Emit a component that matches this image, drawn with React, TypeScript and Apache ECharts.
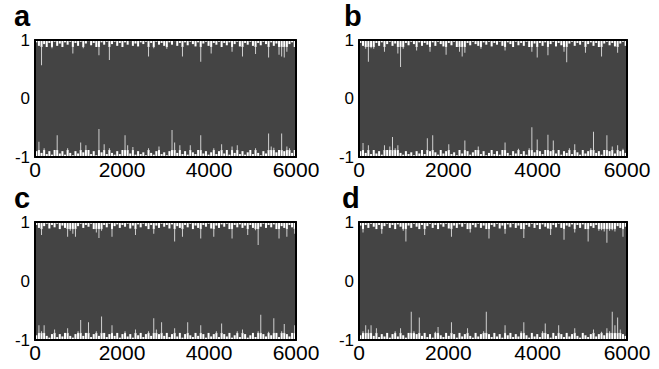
import React, { useEffect, useRef } from "react";
import * as echarts from "echarts";

// Bin width (x units) of the envelope samples (100 bins over 0..6000)
const BIN = 60;
const xTicks = [0, 2000, 4000, 6000];
const yTicks = [-1, 0, 1];
const panelLabels = ["a", "b", "c", "d"];

// Upper / lower envelope of each signal, one value per bin
const topA = [
  0.96, 0.9, 0.57, 0.93, 0.88, 0.95, 0.86, 0.97, 0.9, 0.94,
  0.88, 0.96, 0.92, 0.97, 0.77, 0.95, 0.9, 0.97, 0.86, 0.94,
  0.98, 0.91, 0.95, 0.88, 0.74, 0.96, 0.92, 0.97, 0.66, 0.93,
  0.97, 0.9, 0.95, 0.88, 0.96, 0.92, 0.98, 0.9, 0.94, 0.89,
  0.96, 0.93, 0.97, 0.72, 0.95, 0.86, 0.97, 0.92, 0.95, 0.9,
  0.85, 0.96, 0.92, 0.98, 0.9, 0.95, 0.72, 0.96, 0.91, 0.97,
  0.93, 0.89, 0.96, 0.63, 0.94, 0.97, 0.9, 0.77, 0.95, 0.92,
  0.97, 0.88, 0.95, 0.91, 0.96, 0.8, 0.93, 0.97, 0.89, 0.72,
  0.95, 0.92, 0.97, 0.9, 0.76, 0.95, 0.91, 0.97, 0.93, 0.7,
  0.96, 0.9, 0.94, 0.75, 0.72, 0.7, 0.8, 0.93, 0.96, 0.88,
];
const botA = [
  -0.9, -0.74, -0.93, -0.85, -0.95, -0.9, -0.96, -0.88, -0.63, -0.94,
  -0.9, -0.96, -0.85, -0.93, -0.97, -0.9, -0.94, -0.75, -0.92, -0.8,
  -0.88, -0.95, -0.9, -0.97, -0.52, -0.92, -0.78, -0.95, -0.85, -0.93,
  -0.96, -0.9, -0.95, -0.88, -0.63, -0.8, -0.94, -0.83, -0.96, -0.9,
  -0.95, -0.92, -0.97, -0.85, -0.93, -0.96, -0.9, -0.82, -0.95, -0.92,
  -0.97, -0.9, -0.54, -0.75, -0.93, -0.8, -0.95, -0.9, -0.96, -0.8,
  -0.92, -0.95, -0.88, -0.63, -0.94, -0.9, -0.96, -0.92, -0.85, -0.95,
  -0.9, -0.78, -0.94, -0.88, -0.96, -0.82, -0.93, -0.8, -0.95, -0.9,
  -0.96, -0.92, -0.88, -0.95, -0.85, -0.93, -0.97, -0.9, -0.94, -0.6,
  -0.82, -0.84, -0.92, -0.88, -0.6, -0.9, -0.82, -0.85, -0.93, -0.88,
];
const topB = [
  0.95, 0.9, 0.85, 0.63, 0.86, 0.85, 0.95, 0.9, 0.96, 0.8,
  0.93, 0.97, 0.9, 0.94, 0.77, 0.54, 0.85, 0.95, 0.91, 0.97,
  0.93, 0.82, 0.96, 0.9, 0.95, 0.92, 0.8, 0.96, 0.9, 0.97,
  0.93, 0.89, 0.75, 0.95, 0.91, 0.97, 0.88, 0.8, 0.72, 0.78,
  0.95, 0.91, 0.97, 0.93, 0.9, 0.85, 0.96, 0.92, 0.97, 0.89,
  0.95, 0.92, 0.97, 0.9, 0.82, 0.96, 0.93, 0.88, 0.97, 0.91,
  0.95, 0.9, 0.97, 0.88, 0.8, 0.94, 0.7, 0.95, 0.9, 0.96,
  0.74, 0.93, 0.97, 0.89, 0.95, 0.91, 0.8, 0.62, 0.94, 0.97,
  0.9, 0.95, 0.92, 0.97, 0.78, 0.93, 0.96, 0.9, 0.95, 0.88,
  0.72, 0.94, 0.97, 0.91, 0.95, 0.89, 0.78, 0.94, 0.97, 0.9,
];
const botB = [
  -0.9, -0.76, -0.93, -0.8, -0.95, -0.88, -0.94, -0.9, -0.96, -0.8,
  -0.88, -0.82, -0.66, -0.85, -0.8, -0.93, -0.96, -0.9, -0.95, -0.92,
  -0.97, -0.9, -0.94, -0.88, -0.95, -0.68, -0.9, -0.63, -0.92, -0.96,
  -0.88, -0.94, -0.9, -0.78, -0.95, -0.92, -0.97, -0.88, -0.94, -0.72,
  -0.9, -0.96, -0.92, -0.88, -0.82, -0.95, -0.9, -0.97, -0.93, -0.88,
  -0.95, -0.9, -0.96, -0.88, -0.75, -0.93, -0.97, -0.9, -0.94, -0.86,
  -0.95, -0.9, -0.96, -0.85, -0.49, -0.92, -0.7, -0.9, -0.95, -0.88,
  -0.62, -0.9, -0.72, -0.94, -0.88, -0.96, -0.9, -0.93, -0.85, -0.95,
  -0.78, -0.92, -0.96, -0.88, -0.94, -0.9, -0.85, -0.57, -0.93, -0.9,
  -0.96, -0.88, -0.63, -0.9, -0.82, -0.94, -0.8, -0.9, -0.86, -0.93,
];
const topC = [
  0.95, 0.9, 0.78, 0.93, 0.97, 0.89, 0.95, 0.91, 0.97, 0.88,
  0.94, 0.9, 0.75, 0.85, 0.8, 0.75, 0.93, 0.97, 0.9, 0.95,
  0.92, 0.97, 0.88, 0.82, 0.73, 0.85, 0.95, 0.91, 0.97, 0.75,
  0.93, 0.96, 0.9, 0.95, 0.92, 0.97, 0.89, 0.94, 0.78, 0.96,
  0.91, 0.97, 0.93, 0.88, 0.95, 0.8, 0.94, 0.9, 0.97, 0.92,
  0.95, 0.89, 0.96, 0.67, 0.93, 0.9, 0.75, 0.95, 0.91, 0.97,
  0.88, 0.94, 0.9, 0.72, 0.95, 0.92, 0.97, 0.89, 0.75, 0.94,
  0.9, 0.96, 0.92, 0.97, 0.88, 0.72, 0.95, 0.91, 0.96, 0.9,
  0.94, 0.78, 0.95, 0.9, 0.86, 0.61, 0.92, 0.97, 0.9, 0.95,
  0.91, 0.96, 0.88, 0.72, 0.93, 0.9, 0.75, 0.95, 0.91, 0.8,
];
const botC = [
  -0.92, -0.75, -0.85, -0.75, -0.93, -0.96, -0.9, -0.82, -0.95, -0.9,
  -0.94, -0.88, -0.8, -0.93, -0.96, -0.9, -0.85, -0.66, -0.93, -0.88,
  -0.7, -0.95, -0.9, -0.85, -0.93, -0.6, -0.88, -0.95, -0.9, -0.75,
  -0.93, -0.88, -0.96, -0.9, -0.85, -0.94, -0.9, -0.96, -0.82, -0.92,
  -0.88, -0.95, -0.9, -0.85, -0.93, -0.63, -0.82, -0.9, -0.7, -0.93,
  -0.88, -0.95, -0.9, -0.8, -0.94, -0.88, -0.96, -0.9, -0.7, -0.92,
  -0.95, -0.88, -0.93, -0.75, -0.9, -0.96, -0.88, -0.94, -0.9, -0.85,
  -0.95, -0.72, -0.9, -0.94, -0.88, -0.96, -0.92, -0.85, -0.95, -0.82,
  -0.9, -0.96, -0.92, -0.88, -0.95, -0.85, -0.57, -0.9, -0.94, -0.86,
  -0.92, -0.63, -0.88, -0.95, -0.85, -0.73, -0.9, -0.94, -0.88, -0.75,
];
const topD = [
  0.94, 0.82, 0.95, 0.9, 0.97, 0.92, 0.88, 0.95, 0.8, 0.93,
  0.97, 0.9, 0.95, 0.88, 0.96, 0.92, 0.85, 0.67, 0.94, 0.9,
  0.97, 0.92, 0.88, 0.95, 0.78, 0.93, 0.97, 0.9, 0.95, 0.88,
  0.96, 0.92, 0.97, 0.89, 0.75, 0.94, 0.9, 0.96, 0.92, 0.97,
  0.88, 0.82, 0.95, 0.91, 0.97, 0.9, 0.94, 0.88, 0.72, 0.95,
  0.92, 0.97, 0.89, 0.94, 0.8, 0.96, 0.91, 0.97, 0.9, 0.94,
  0.88, 0.73, 0.95, 0.92, 0.97, 0.9, 0.95, 0.88, 0.96, 0.92,
  0.89, 0.78, 0.95, 0.91, 0.97, 0.9, 0.7, 0.94, 0.92, 0.96,
  0.82, 0.95, 0.9, 0.96, 0.88, 0.67, 0.93, 0.9, 0.95, 0.85,
  0.86, 0.84, 0.65, 0.85, 0.86, 0.84, 0.93, 0.9, 0.75, 0.92,
];
const botD = [
  -0.92, -0.85, -0.75, -0.82, -0.75, -0.93, -0.8, -0.95, -0.9, -0.94,
  -0.88, -0.96, -0.9, -0.85, -0.94, -0.8, -0.92, -0.96, -0.88, -0.52,
  -0.85, -0.9, -0.62, -0.93, -0.88, -0.95, -0.9, -0.96, -0.86, -0.78,
  -0.92, -0.95, -0.88, -0.93, -0.7, -0.9, -0.96, -0.88, -0.94, -0.9,
  -0.8, -0.93, -0.96, -0.88, -0.94, -0.9, -0.85, -0.52, -0.9, -0.95,
  -0.88, -0.94, -0.9, -0.96, -0.75, -0.92, -0.88, -0.95, -0.9, -0.94,
  -0.85, -0.7, -0.92, -0.96, -0.88, -0.94, -0.9, -0.95, -0.85, -0.72,
  -0.9, -0.96, -0.88, -0.93, -0.75, -0.9, -0.95, -0.88, -0.94, -0.9,
  -0.8, -0.93, -0.96, -0.88, -0.92, -0.95, -0.9, -0.82, -0.94, -0.9,
  -0.86, -0.92, -0.8, -0.85, -0.52, -0.75, -0.62, -0.82, -0.9, -0.93,
];

const tops = [topA, topB, topC, topD];
const bots = [botA, botB, botC, botD];

// layout (pixels)
const grids = [
  { left: 35, top: 40, width: 261, height: 117 },
  { left: 359, top: 40, width: 268, height: 117 },
  { left: 35, top: 222, width: 261, height: 118 },
  { left: 359, top: 222, width: 268, height: 118 },
];
const letterPos = [
  { x: 14, y: 15.5 },
  { x: 344, y: 15.5 },
  { x: 14, y: 197.5 },
  { x: 342, y: 197.5 },
];

const FONT = "'Liberation Sans', Arial, Helvetica, sans-serif";
const FILL = "#444444";
const FRINGE = 0.12; // depth (data units) of the white fringe part of a spike
const WIDE = 2.0; // px
const THIN = 1.0; // px

export default function App() {
  const ref = useRef<HTMLDivElement>(null);
  useEffect(() => {
    if (!ref.current) return;
    const chart = echarts.init(ref.current, undefined, { renderer: "svg" });
    const xAxis: any[] = [];
    const yAxis: any[] = [];
    const series: any[] = [];
    const fmt = (v: number) => String(v);
    grids.forEach((g, i) => {
      const line = { show: true, lineStyle: { color: "#000", width: 2 } };
      xAxis.push({
        type: "value", gridIndex: i, min: 0, max: 6000, interval: 2000, position: "bottom", z: 10,
        axisLine: { ...line, onZero: false }, axisTick: { show: false }, splitLine: { show: false },
        axisLabel: { fontSize: 21, lineHeight: 18, color: "#000", fontFamily: FONT, margin: 3, customValues: xTicks, formatter: fmt },
      });
      xAxis.push({
        type: "value", gridIndex: i, min: 0, max: 6000, position: "top", z: 10,
        axisLine: { ...line, onZero: false }, axisTick: { show: false }, splitLine: { show: false },
        axisLabel: { show: false },
      });
      yAxis.push({
        type: "value", gridIndex: i, min: -1, max: 1, interval: 1, position: "left", z: 10,
        axisLine: { ...line, onZero: false }, axisTick: { show: false }, splitLine: { show: false },
        axisLabel: { fontSize: 17, lineHeight: 13, color: "#000", fontFamily: FONT, margin: 5, customValues: yTicks, formatter: fmt },
      });
      yAxis.push({
        type: "value", gridIndex: i, min: -1, max: 1, position: "right", z: 10,
        axisLine: { ...line, onZero: false }, axisTick: { show: false }, splitLine: { show: false },
        axisLabel: { show: false },
      });
      const data = tops[i].map((t, k) => [k * BIN, bots[i][k], t]);
      series.push({
        type: "custom",
        xAxisIndex: i * 2,
        yAxisIndex: i * 2,
        data,
        clip: true,
        renderItem: (params: any, api: any) => {
          const x0 = api.value(0);
          const lo = api.value(1);
          const hi = api.value(2);
          const pTop = api.coord([x0, 1]);
          const pBot = api.coord([x0 + BIN, -1]);
          const w = pBot[0] - pTop[0];
          const mid = pTop[0] + w / 2;
          const yHiF = api.coord([x0, Math.max(hi, 1 - FRINGE)])[1];
          const yHi = api.coord([x0, hi])[1];
          const yLoF = api.coord([x0, Math.min(lo, -1 + FRINGE)])[1];
          const yLo = api.coord([x0, lo])[1];
          const children: any[] = [
            {
              type: "rect",
              shape: { x: mid - WIDE / 2, y: pTop[1], width: WIDE, height: yHiF - pTop[1] },
              style: { fill: "#fff" },
            },
            {
              type: "rect",
              shape: { x: mid - WIDE / 2, y: yLoF, width: WIDE, height: pBot[1] - yLoF },
              style: { fill: "#fff" },
            },
          ];
          if (yHi > yHiF) {
            children.push({
              type: "rect",
              shape: { x: mid - THIN / 2, y: yHiF - 0.5, width: THIN, height: yHi - yHiF + 0.5 },
              style: { fill: "#d0d0d0" },
            });
          }
          if (yLo < yLoF) {
            children.push({
              type: "rect",
              shape: { x: mid - THIN / 2, y: yLo, width: THIN, height: yLoF - yLo + 0.5 },
              style: { fill: "#d0d0d0" },
            });
          }
          return { type: "group", children };
        },
      });
    });
    chart.setOption({
      animation: false,
      backgroundColor: "#fff",
      grid: grids.map((g) => ({ ...g, containLabel: false, show: true, backgroundColor: FILL, borderWidth: 0 })),
      xAxis,
      yAxis,
      series,
      graphic: panelLabels.map((t, i) => ({
        type: "text",
        x: letterPos[i].x,
        y: letterPos[i].y,
        style: {
          text: t,
          font: `bold 29px ${FONT}`,
          lineHeight: 24,
          fill: "#000",
          verticalAlign: "middle",
          align: "left",
        },
      })),
    });
    return () => chart.dispose();
  }, []);
  return (
    <div
      ref={ref}
      style={{ position: "absolute", left: 0, top: 0, width: 659, height: 369, background: "#fff" }}
    />
  );
}
